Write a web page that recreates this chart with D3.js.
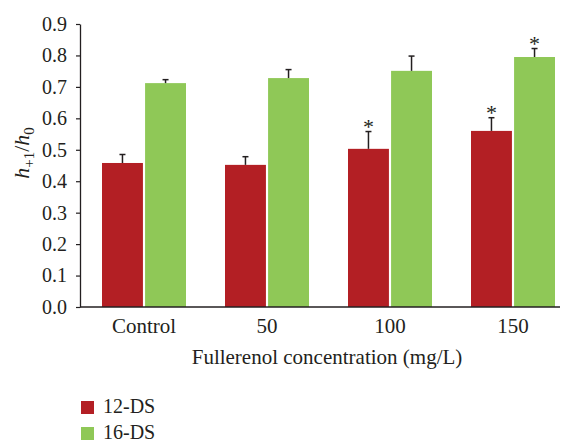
<!DOCTYPE html>
<html>
<head>
<meta charset="utf-8">
<script src="https://cdn.jsdelivr.net/npm/d3@7"></script>
<style>
  body { margin: 0; background: #fff; }
  text { font-family: "Liberation Serif", "DejaVu Serif", serif; fill: #231f20; }
</style>
</head>
<body>
<div id="chart"></div>
<script>
const categories = ["Control", "50", "100", "150"];
const seriesNames = ["12-DS", "16-DS"];
const values12 = [0.458, 0.452, 0.503, 0.560];
const errors12 = [0.027, 0.026, 0.055, 0.042];
const values16 = [0.712, 0.728, 0.751, 0.795];
const errors16 = [0.011, 0.027, 0.047, 0.027];
const signif12 = [false, false, true, true];
const signif16 = [false, false, false, true];
const yTicks = [0, 0.1, 0.2, 0.3, 0.4, 0.5, 0.6, 0.7, 0.8, 0.9];
const colors = ["#b31f24", "#8fc857"];

const width = 565;
const height = 444;
const margin = { top: 24, right: 5, bottom: 137, left: 80 };

const svg = d3.select("#chart")
    .append("svg")
    .attr("width", width)
    .attr("height", height);

const xScale = d3.scaleBand()
    .domain(categories)
    .range([82.5, 574.5])
    .padding(0);

const inner = d3.scaleBand()
    .domain(seriesNames)
    .range([-42, 42])
    .paddingInner(0.05);

const yScale = d3.scaleLinear()
    .domain([0, 0.9])
    .range([height - margin.bottom, margin.top]);

// y axis
const yAxis = d3.axisLeft(yScale)
    .tickValues(yTicks)
    .tickFormat(d3.format(".1f"))
    .tickSizeInner(4)
    .tickSizeOuter(0)
    .tickPadding(9);

const gy = svg.append("g")
    .attr("transform", `translate(${margin.left},0)`)
    .call(yAxis);
gy.select(".domain").attr("stroke", "#231f20").attr("stroke-width", 1.3);
gy.selectAll(".tick line").attr("stroke", "#231f20").attr("stroke-width", 1.2);
gy.selectAll(".tick text")
    .style("font-family", "Liberation Serif")
    .style("font-size", "20px")
    .attr("fill", "#231f20");

// bars
const series = [
    { name: seriesNames[0], values: values12, errors: errors12, signif: signif12, color: colors[0] },
    { name: seriesNames[1], values: values16, errors: errors16, signif: signif16, color: colors[1] }
];

series.forEach(s => {
    const g = svg.append("g");
    categories.forEach((c, i) => {
        const x0 = xScale(c) + xScale.bandwidth() / 2 + inner(s.name);
        const bw = inner.bandwidth();
        const cx = x0 + bw / 2;
        g.append("rect")
            .attr("x", x0)
            .attr("y", yScale(s.values[i]))
            .attr("width", bw)
            .attr("height", yScale(0) - yScale(s.values[i]))
            .attr("fill", s.color);
        const top = yScale(s.values[i] + s.errors[i]);
        g.append("line")
            .attr("x1", cx).attr("x2", cx)
            .attr("y1", yScale(s.values[i])).attr("y2", top)
            .attr("stroke", "#231f20").attr("stroke-width", 1.5);
        g.append("line")
            .attr("x1", cx - 3).attr("x2", cx + 3)
            .attr("y1", top).attr("y2", top)
            .attr("stroke", "#231f20").attr("stroke-width", 1.5);
        if (s.signif[i]) {
            g.append("text")
                .attr("x", cx)
                .attr("y", top + 2)
                .attr("text-anchor", "middle")
                .style("font-size", "22px")
                .text("*");
        }
    });
});

// x axis
svg.append("line")
    .attr("x1", margin.left).attr("x2", 560)
    .attr("y1", yScale(0)).attr("y2", yScale(0))
    .attr("stroke", "#231f20").attr("stroke-width", 1.3);

svg.append("g")
    .selectAll("text")
    .data(categories)
    .enter()
    .append("text")
    .attr("x", d => xScale(d) + xScale.bandwidth() / 2)
    .attr("y", 333)
    .attr("text-anchor", "middle")
    .style("font-size", "21px")
    .text(d => d);

svg.append("text")
    .attr("x", 327)
    .attr("y", 364)
    .attr("text-anchor", "middle")
    .style("font-size", "21px")
    .text("Fullerenol concentration (mg/L)");

// y axis title
const yt = svg.append("text")
    .attr("transform", `translate(29,${yScale(0.49)}) rotate(-90)`)
    .attr("text-anchor", "middle")
    .style("font-size", "22px");
yt.append("tspan").style("font-style", "italic").text("h");
yt.append("tspan").attr("dy", 5).style("font-size", "15px").text("+1");
yt.append("tspan").attr("dy", -5).text("/");
yt.append("tspan").style("font-style", "italic").text("h");
yt.append("tspan").attr("dy", 5).style("font-size", "15px").text("0");

// legend
const legend = svg.append("g")
    .selectAll("g")
    .data(series)
    .enter()
    .append("g")
    .attr("transform", (d, i) => `translate(81,${401 + i * 26})`);
legend.append("rect")
    .attr("width", 13)
    .attr("height", 13)
    .attr("fill", d => d.color);
legend.append("text")
    .attr("x", 22)
    .attr("y", 12)
    .style("font-size", "20px")
    .text(d => d.name);
</script>
</body>
</html>
